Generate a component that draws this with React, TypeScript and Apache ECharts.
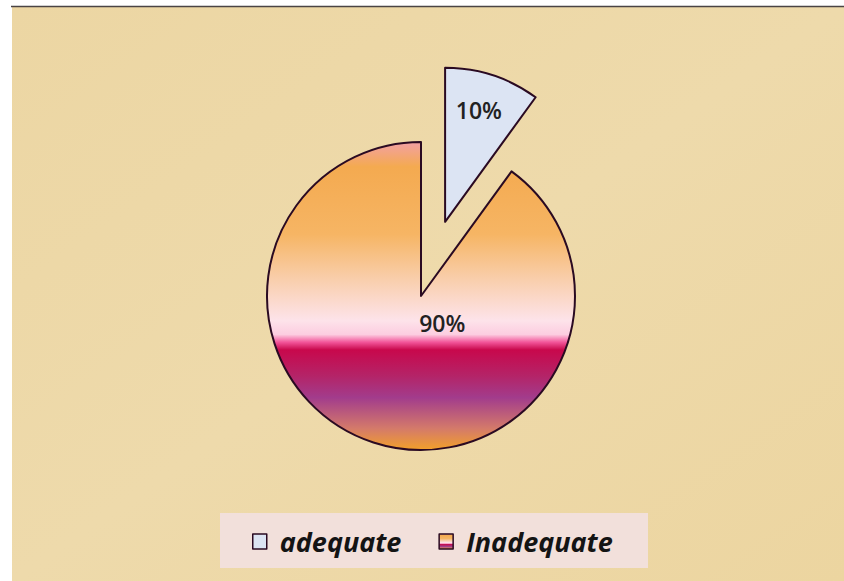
import React, { useEffect, useRef } from "react";
import * as echarts from "echarts";

const categories = ["adequate", "Inadequate"];
const values = [10, 90];
const legendLabels = ["adequate", "Inadequate"];

// label nudges (px) relative to ECharts' "inside" position
const labelShift = [
  [9, -36],
  [46, -49],
];

export default function App() {
  const ref = useRef<HTMLDivElement>(null);

  useEffect(() => {
    document.body.style.margin = "0";
    if (!ref.current) return;
    const chart = echarts.init(ref.current, undefined, { renderer: "svg" });

    const inadequateGrad = new echarts.graphic.LinearGradient(0, 0, 0, 1, [
      { offset: 0, color: "#F2A0A4" },
      { offset: 0.08, color: "#F4AA50" },
      { offset: 0.3, color: "#F6B564" },
      { offset: 0.45, color: "#F9CFAE" },
      { offset: 0.58, color: "#FDE3EA" },
      { offset: 0.625, color: "#FCCDE0" },
      { offset: 0.65, color: "#F2559A" },
      { offset: 0.675, color: "#C8084C" },
      { offset: 0.76, color: "#B42468" },
      { offset: 0.83, color: "#A23C8C" },
      { offset: 0.93, color: "#D47A6A" },
      { offset: 1, color: "#F2A02A" },
    ]);
    const fills = ["#DCE4F3", inadequateGrad];
    const border = "#2A0A22";

    chart.setOption({
      animation: false,
      backgroundColor: "#ffffff",
      graphic: [
        {
          type: "rect",
          shape: { x: 12, y: 7, width: 832, height: 574 },
          style: {
            fill: new echarts.graphic.LinearGradient(0, 0, 1, 1, [
              { offset: 0, color: "#ECD6A3" },
              { offset: 0.5, color: "#EEDAAB" },
              { offset: 1, color: "#ECD5A0" },
            ]),
          },
          z: -10,
        },
        {
          type: "line",
          shape: { x1: 11, y1: 6.5, x2: 844, y2: 6.5 },
          style: { stroke: "#4A4444", lineWidth: 1.5 },
          z: -9,
        },
        {
          type: "line",
          shape: { x1: 11.5, y1: 6, x2: 11.5, y2: 581 },
          style: {
            stroke: new echarts.graphic.LinearGradient(0, 0, 0, 1, [
              { offset: 0, color: "#555050" },
              { offset: 0.55, color: "#6A5050" },
              { offset: 0.75, color: "#B86070" },
              { offset: 1, color: "#EAA040" },
            ]),
            lineWidth: 2,
          },
          z: -9,
        },
        {
          type: "rect",
          shape: { x: 220, y: 513, width: 428, height: 55 },
          style: { fill: "#F2E0DB" },
          z: -5,
        },
      ],
      legend: {
        data: legendLabels,
        left: 247,
        top: 523,
        icon: "rect",
        itemWidth: 14,
        itemHeight: 15,
        itemGap: 37,
        textStyle: {
          fontFamily: "Open Sans",
          fontStyle: "italic",
          fontWeight: "bold",
          fontSize: 27,
          color: "#141414",
          padding: [0, 0, 0, 8],
        },
        itemStyle: { borderColor: border, borderWidth: 1.5 },
      },
      series: [
        {
          type: "pie",
          center: [421, 296],
          radius: 154,
          startAngle: 90,
          clockwise: true,
          percentPrecision: 0,
          selectedMode: "single",
          selectedOffset: 78,
          emphasis: { disabled: true },
          itemStyle: { borderColor: border, borderWidth: 2 },
          label: {
            show: true,
            position: "inside",
            formatter: "{d}%",
            fontFamily: "Open Sans",
            fontWeight: 600,
            fontSize: 23,
            color: "#222222",
          },
          labelLine: { show: false },
          labelLayout: (p: any) => ({
            dx: labelShift[p.dataIndex][0],
            dy: labelShift[p.dataIndex][1],
          }),
          data: categories.map((name, i) => ({
            name,
            value: values[i],
            selected: i === 0,
            itemStyle: { color: fills[i] },
            select: { itemStyle: { color: fills[i], borderColor: border, borderWidth: 2 } },
          })),
        },
      ],
    });

    return () => chart.dispose();
  }, []);

  return <div ref={ref} style={{ width: 844, height: 581 }} />;
}
